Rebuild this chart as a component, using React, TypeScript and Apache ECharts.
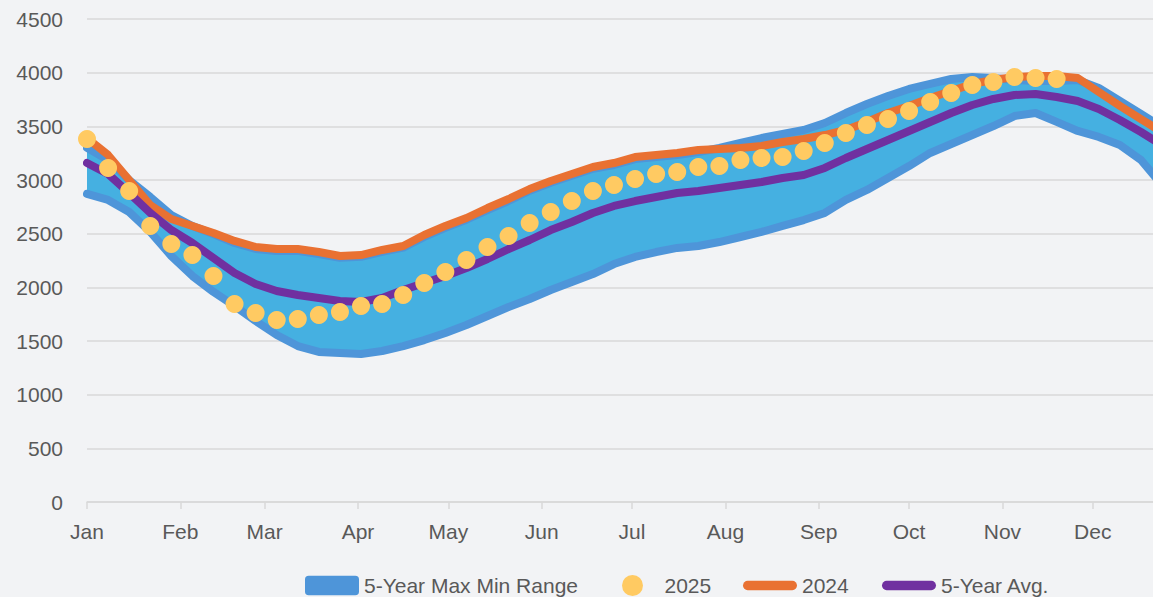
import React, { useEffect, useRef } from "react";
import * as echarts from "echarts";

// Week start, as day of year
const weekDays = [
  0, 7, 14, 21, 28, 35, 42, 49, 56, 63, 70, 77, 84, 91, 98, 105, 112, 119, 126, 133,
  140, 147, 154, 161, 168, 175, 182, 189, 196, 203, 210, 217, 224, 231, 238, 245, 252,
  259, 266, 273, 280, 287, 294, 301, 308, 315, 322, 329, 336, 343, 350, 357,
];

const monthStarts = [0, 31, 59, 90, 120, 151, 181, 212, 243, 273, 304, 334];
const monthLabels = ["Jan", "Feb", "Mar", "Apr", "May", "Jun", "Jul", "Aug", "Sep", "Oct", "Nov", "Dec"];

const yTicks = [0, 500, 1000, 1500, 2000, 2500, 3000, 3500, 4000, 4500];

const fiveYearMax = [
  3300, 3186, 3000, 2842, 2674, 2572, 2497, 2413, 2357, 2339, 2340, 2310, 2275, 2285, 2330,
  2370, 2470, 2555, 2630, 2720, 2805, 2900, 2975, 3040, 3105, 3140, 3195, 3215, 3233, 3261,
  3298, 3345, 3391, 3429, 3466, 3531, 3624, 3708, 3783, 3848, 3895, 3941, 3960, 3950, 3932,
  3922, 3922, 3932, 3857, 3736, 3615, 3494,
];

const fiveYearMin = [
  2870, 2814, 2702, 2516, 2292, 2106, 1957, 1826, 1686, 1556, 1453, 1398, 1388, 1379, 1407,
  1453, 1509, 1575, 1649, 1733, 1817, 1891, 1975, 2050, 2124, 2217, 2283, 2329, 2367, 2385,
  2422, 2469, 2516, 2572, 2627, 2693, 2814, 2907, 3019, 3130, 3252, 3335, 3419, 3503, 3596,
  3624, 3541, 3457, 3401, 3326, 3186, 2953,
];

const fiveYearAvg = [
  3159, 3056, 2879, 2693, 2534, 2413, 2273, 2134, 2031, 1966, 1929, 1901, 1873, 1863, 1901,
  1975, 2040, 2106, 2180, 2264, 2357, 2441, 2534, 2609, 2693, 2758, 2804, 2842, 2879, 2898,
  2926, 2953, 2981, 3019, 3047, 3112, 3205, 3289, 3373, 3457, 3540, 3624, 3699, 3755, 3792,
  3801, 3773, 3736, 3662, 3559, 3447, 3326,
];

const values2024 = [
  3390, 3233, 3000, 2767, 2637, 2572, 2506, 2432, 2376, 2357, 2357, 2329, 2292, 2301, 2348,
  2385, 2488, 2572, 2646, 2739, 2823, 2916, 2991, 3056, 3121, 3158, 3214, 3233, 3252, 3280,
  3289, 3298, 3317, 3354, 3382, 3419, 3466, 3540, 3624, 3690, 3764, 3829, 3895, 3932, 3960,
  3969, 3969, 3950, 3820, 3690, 3568, 3447,
];

const values2025 = [
  3382, 3112, 2898, 2572, 2404, 2301, 2106, 1845, 1761, 1696, 1705, 1742, 1770, 1826, 1845,
  1929, 2040, 2143, 2255, 2376, 2478, 2599, 2702, 2804, 2898, 2953, 3009, 3056, 3075, 3121,
  3131, 3186, 3205, 3214, 3270, 3345, 3438, 3513, 3568, 3643, 3727, 3811, 3885, 3913, 3960,
  3950, 3941,
];

const BAND_FILL = "#45B0E1";
const BAND_EDGE = "#4E95D9";
const ORANGE = "#E97132";
const PURPLE = "#7030A0";
const DOT = "#FFCA62";
const TEXT = "#595959";
const GRID = "#D9D9D9";

const pair = (vals: number[]) => vals.map((v, i) => [weekDays[i], v]);
const bandData = weekDays.map((d, i) => [d, fiveYearMin[i], fiveYearMax[i]]);

const BAR_ICON = "path://M5,0H53A5,5,0,0,1,53,10H5A5,5,0,0,1,5,0Z";
const BOX_ICON =
  "path://M4,0H54A4,4,0,0,1,58,4V17A4,4,0,0,1,54,21H4A4,4,0,0,1,0,17V4A4,4,0,0,1,4,0Z";
const DOT_ICON = "path://M10,0A10,10,0,1,1,10,20A10,10,0,1,1,10,0Z";

const legendItems = [
  { name: "5-Year Max Min Range", icon: BOX_ICON, color: BAND_EDGE, left: 300 },
  { name: "2025", icon: DOT_ICON, color: DOT, left: 617 },
  { name: "2024", icon: BAR_ICON, color: ORANGE, left: 738 },
  { name: "5-Year Avg.", icon: BAR_ICON, color: PURPLE, left: 877 },
];

export default function App() {
  const ref = useRef<HTMLDivElement>(null);

  useEffect(() => {
    if (!ref.current) return;
    const chart = echarts.init(ref.current, undefined, { renderer: "svg" });

    chart.setOption({
      animation: false,
      backgroundColor: "#F2F3F5",
      grid: { left: 87, right: 0, top: 19, bottom: 95 },
      legend: legendItems.map((it) => ({
        left: it.left,
        top: 570,
        itemWidth: 54,
        itemHeight: 21,
        textStyle: {
          color: TEXT,
          fontSize: 21,
          fontFamily: "'Liberation Sans', Arial, sans-serif",
        },
        data: [{ name: it.name, icon: it.icon, itemStyle: { color: it.color } }],
      })),
      xAxis: {
        type: "value",
        min: 0,
        max: 354,
        splitLine: { show: false },
        axisLine: { show: true, lineStyle: { color: GRID, width: 1.5 } },
        axisTick: {
          show: true,
          length: 7,
          lineStyle: { color: GRID, width: 1.5 },
          customValues: monthStarts,
        },
        axisLabel: {
          customValues: monthStarts,
          formatter: (v: number) => {
            const idx = monthStarts.indexOf(Math.round(v));
            return idx >= 0 ? monthLabels[idx] : "";
          },
          color: TEXT,
          fontSize: 21,
          margin: 19,
          fontFamily: "'Liberation Sans', Arial, sans-serif",
        },
      },
      yAxis: {
        type: "value",
        min: yTicks[0],
        max: yTicks[yTicks.length - 1],
        interval: 500,
        axisLine: { show: false },
        axisTick: { show: false },
        splitLine: { lineStyle: { color: GRID, width: 1.5 } },
        axisLabel: {
          color: TEXT,
          fontSize: 21,
          margin: 24,
          formatter: (v: number) => String(v),
          fontFamily: "'Liberation Sans', Arial, sans-serif",
        },
      },
      series: [
        {
          name: "band fill",
          type: "custom",
          data: bandData,
          clip: true,
          silent: true,
          z: 1,
          encode: { x: 0, y: [1, 2] },
          renderItem: (params: any, api: any) => {
            if (params.dataIndex !== 0) return null;
            const top = bandData.map((r) => api.coord([r[0], r[2]]));
            const bottom = bandData.map((r) => api.coord([r[0], r[1]])).reverse();
            return {
              type: "polygon",
              shape: { points: top.concat(bottom) },
              style: { fill: BAND_FILL, stroke: "none" },
            };
          },
        },
        {
          name: "5-Year Max Min Range",
          type: "line",
          data: pair(fiveYearMax),
          symbol: "none",
          lineStyle: { color: BAND_EDGE, width: 8, join: "round", cap: "round" },
          itemStyle: { color: BAND_EDGE },
          z: 2,
        },
        {
          name: "5-Year Min",
          type: "line",
          data: pair(fiveYearMin),
          symbol: "none",
          lineStyle: { color: BAND_EDGE, width: 8, join: "round", cap: "round" },
          itemStyle: { color: BAND_EDGE },
          z: 3,
        },
        {
          name: "2024",
          type: "line",
          data: pair(values2024),
          symbol: "none",
          lineStyle: { color: ORANGE, width: 8, join: "round", cap: "round" },
          itemStyle: { color: ORANGE },
          z: 4,
        },
        {
          name: "5-Year Avg.",
          type: "line",
          data: pair(fiveYearAvg),
          symbol: "none",
          lineStyle: { color: PURPLE, width: 8, join: "round", cap: "round" },
          itemStyle: { color: PURPLE },
          z: 5,
        },
        {
          name: "2025",
          type: "scatter",
          data: pair(values2025),
          symbol: "circle",
          symbolSize: 18,
          itemStyle: { color: DOT, opacity: 1 },
          z: 6,
        },
      ],
    });

    return () => chart.dispose();
  }, []);

  return (
    <div
      ref={ref}
      style={{ position: "fixed", left: 0, top: 0, width: 1153, height: 597 }}
    />
  );
}
